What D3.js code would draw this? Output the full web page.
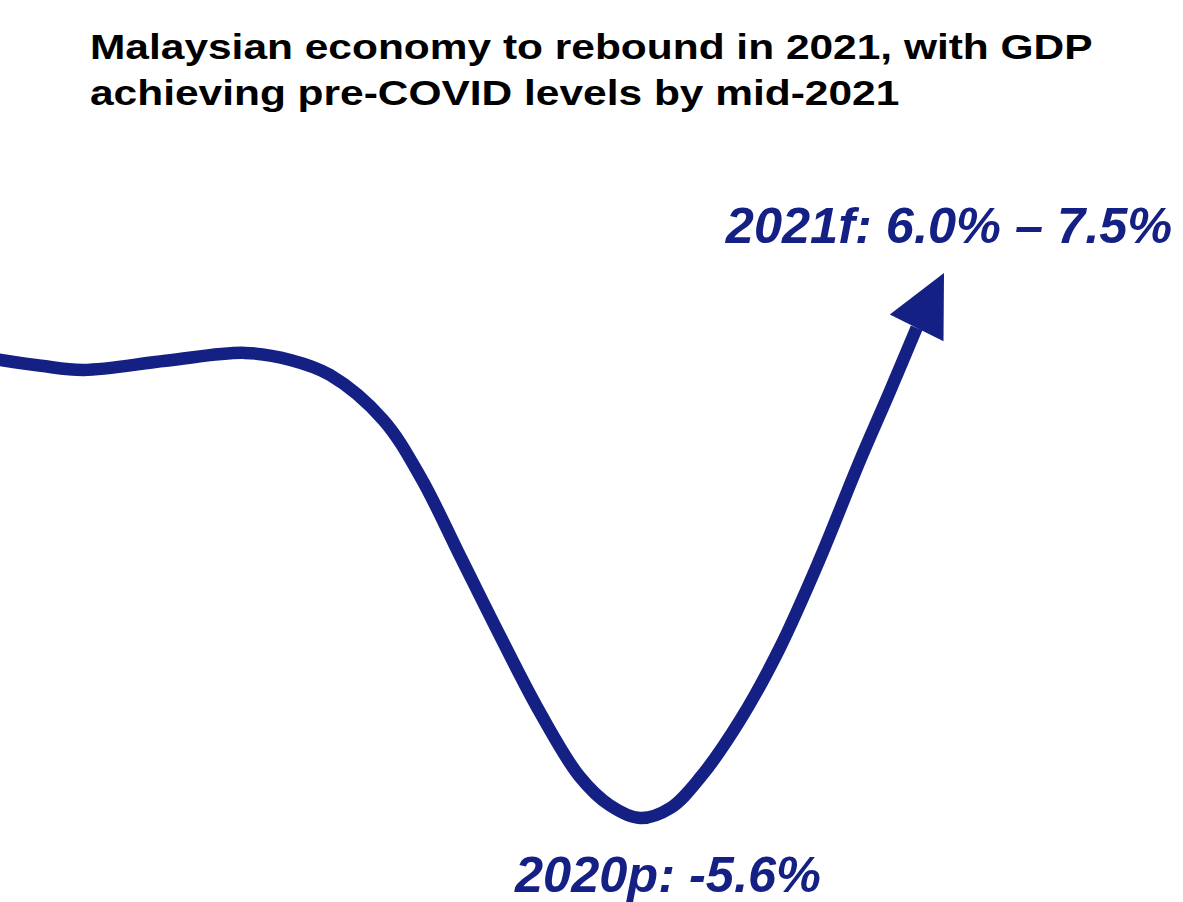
<!DOCTYPE html>
<html>
<head>
<meta charset="utf-8">
<script src="https://cdn.jsdelivr.net/npm/d3@7"></script>
<style>
  html, body { margin: 0; padding: 0; background: #ffffff; }
  svg { display: block; }
</style>
</head>
<body>
<svg id="chart" width="1183" height="902"></svg>
<script>
// Stylised GDP growth path (year, real GDP growth %), ending in the 2021 forecast arrow tip
const pathYears  = [2017.88, 2018.03, 2018.17, 2018.44, 2018.70, 2018.85, 2018.98, 2019.155, 2019.28, 2019.41, 2019.54, 2019.67, 2019.80, 2019.90, 2020.00, 2020.10, 2020.20, 2020.33, 2020.46, 2020.59, 2020.72, 2020.82, 2020.91, 2021.0];
const pathGrowth = [5.43, 5.27, 5.17, 5.39, 5.58, 5.41, 5.05, 3.97, 2.57, 0.67, -1.23, -3.05, -4.59, -5.29, -5.6, -5.36, -4.61, -3.24, -1.51, 0.60, 2.93, 4.62, 6.18, 7.5];

const titleLines = [
  "Malaysian economy to rebound in 2021, with GDP",
  "achieving pre-COVID levels by mid-2021"
];
const troughLabel   = "2020p: -5.6%";
const forecastLabel = "2021f: 6.0% \u2013 7.5%";

const navy = "#142084";

const svg = d3.select("#chart");

const x = d3.scaleLinear().domain([2020, 2021]).range([640, 944]);
const y = d3.scaleLinear().domain([-5.6, 7.5]).range([818, 273]);

// Title, set in a wide bold face
const titleLeft = 90, titleWidth = 1003;
const title = svg.append("g");
const titleText = title.selectAll("text")
  .data(titleLines)
  .join("text")
  .attr("x", 0)
  .attr("y", (d, i) => 59 + i * 46.5)
  .attr("font-family", "'Liberation Sans', Arial, sans-serif")
  .attr("font-weight", "bold")
  .attr("font-size", 35.5)
  .attr("fill", "#000000")
  .text(d => d);
const naturalWidth = titleText.node().getComputedTextLength();
title.attr("transform", `translate(${titleLeft},0) scale(${titleWidth / naturalWidth},1)`);

const pts = pathYears.map((yr, i) => [x(yr), y(pathGrowth[i])]);
const linePts = pts.slice(0, -1);
const tip = pts[pts.length - 1];
const base = linePts[linePts.length - 1];

// Growth path
svg.append("path")
  .datum(linePts)
  .attr("fill", "none")
  .attr("stroke", navy)
  .attr("stroke-width", 12.5)
  .attr("stroke-linecap", "butt")
  .attr("d", d3.line().curve(d3.curveCatmullRom.alpha(0.5)));

// Arrow head from the end of the path to the forecast tip
const dx = tip[0] - base[0], dy = tip[1] - base[1];
const len = Math.hypot(dx, dy);
const px = -dy / len, py = dx / len;
const halfW = 30;
svg.append("polygon")
  .attr("fill", navy)
  .attr("points", [
    tip,
    [base[0] + px * halfW, base[1] + py * halfW],
    [base[0] - px * halfW, base[1] - py * halfW]
  ].map(p => p.join(",")).join(" "));

// Value labels
const labelFont = "'Liberation Sans', Arial, sans-serif";
svg.append("text")
  .attr("x", tip[0] + 5)
  .attr("y", tip[1] - 30)
  .attr("text-anchor", "middle")
  .attr("font-family", labelFont)
  .attr("font-weight", "bold")
  .attr("font-style", "italic")
  .attr("font-size", 50.5)
  .attr("fill", navy)
  .text(forecastLabel);

svg.append("text")
  .attr("x", x(2020) + 28)
  .attr("y", y(-5.6) + 74)
  .attr("text-anchor", "middle")
  .attr("font-family", labelFont)
  .attr("font-weight", "bold")
  .attr("font-style", "italic")
  .attr("font-size", 50.5)
  .attr("fill", navy)
  .text(troughLabel);
</script>
</body>
</html>
